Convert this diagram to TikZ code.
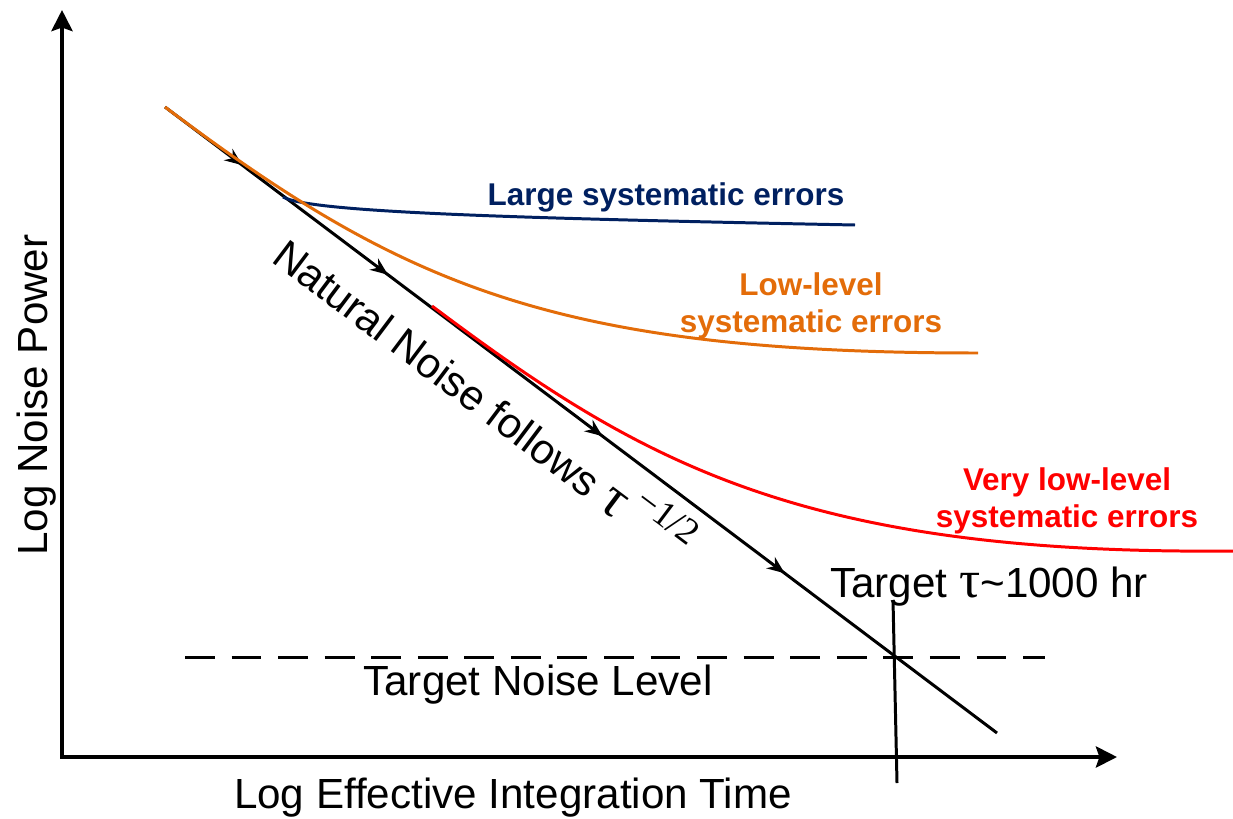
\documentclass[tikz,border=0pt]{standalone}
\usepackage{fontspec}
\setmainfont{Liberation Sans}
\newfontfamily\taufont{Liberation Serif}
\definecolor{errNavy}{HTML}{002060}
\definecolor{errOrange}{HTML}{E36C09}
\definecolor{errRed}{HTML}{FF0000}
\usetikzlibrary{arrows.meta,decorations.markings}

\begin{document}
\begin{tikzpicture}[x=0.02cm, y=-0.02cm,
  axis/.style={line width=2.3pt, {Stealth[length=12pt, width=12pt, inset=2pt]}-{Stealth[length=12pt, width=12pt, inset=2pt]}},
  natline/.style={line width=1.7pt, postaction={decorate}, decoration={markings,
    mark=at position 0.093 with {\arrow{Stealth[length=10pt, width=8pt]}},
    mark=at position 0.268 with {\arrow{Stealth[length=10pt, width=8pt]}},
    mark=at position 0.526 with {\arrow{Stealth[length=10pt, width=8pt]}},
    mark=at position 0.745 with {\arrow{Stealth[length=10pt, width=8pt]}}}},
  errcurve/.style={line width=1.7pt},
  errlabel/.style={font=\fontsize{17.9}{21}\selectfont\bfseries, align=center, inner sep=0pt},
  plainlabel/.style={font=\fontsize{24}{28}\selectfont, inner sep=0pt}
]
  \useasboundingbox (0,0) rectangle (1233,818);

  \coordinate (origin) at (62,757);
  \coordinate (ytop) at (62,10);
  \coordinate (xend) at (1117,757);
  \coordinate (natstart) at (165,107);
  \coordinate (natend) at (997,733);

  % Axes
  \draw[axis] (ytop) -- (origin) -- (xend);

  % Target noise level and target time
  \draw[line width=1.7pt, dash pattern=on 17pt off 9.5pt] (185,657) -- (1045,657);
  \draw[line width=1.7pt] (893,600) -- (897,783);

  % Natural noise and the systematic error curves
  \draw[natline] (natstart) -- (natend);
  \draw[errcurve, errNavy] (283,197) .. controls (310,212) and (500,218) .. (855,225);
  \draw[errcurve, errOrange] (natstart) .. controls (400,283) and (550,353) .. (978,353);
  \draw[errcurve, errRed] (432,306) .. controls (640,462) and (800,555) .. (1233,551);

  \node[errlabel, text=errNavy, anchor=base] (largelbl) at (666,205) {Large systematic errors};
  \node[errlabel, text=errOrange, anchor=base] (lowlbl) at (811,332) {Low-level\\systematic errors};
  \node[errlabel, text=errRed, anchor=base] (verylowlbl) at (1067,527) {Very low-level\\systematic errors};

  \node[plainlabel, anchor=base west, rotate=-36.96] (natlbl) at (270,261)
    {Natural Noise follows {\fontsize{32}{32}\selectfont\taufont τ}\,\raisebox{13pt}{\fontsize{21}{21}\selectfont\taufont −1/2}};
  \node[plainlabel, anchor=base west] (targettau) at (830,597) {Target {\fontsize{30}{30}\selectfont\taufont τ}\textasciitilde1000 hr};
  \node[plainlabel, anchor=base] (noiselvl) at (538,695) {Target Noise Level};
  \node[plainlabel, anchor=base] (xlabel) at (513,808) {Log Effective Integration Time};
  \node[plainlabel, anchor=base, rotate=90] (ylabel) at (47,395) {Log Noise Power};
\end{tikzpicture}
\end{document}
